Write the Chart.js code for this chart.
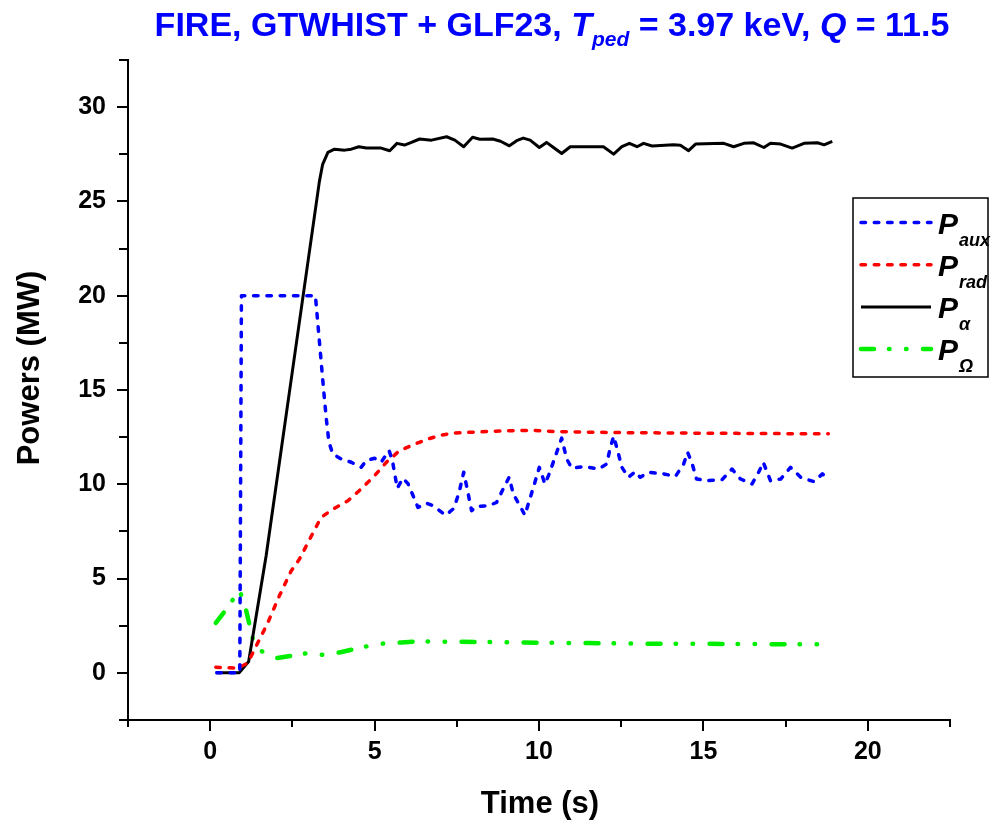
<!DOCTYPE html>
<html>
<head>
<meta charset="utf-8">
<script src="https://cdn.jsdelivr.net/npm/chart.js@4.4.0/dist/chart.umd.min.js"></script>
<style>
  body { margin: 0; background: #fff; }
  canvas { display: block; }
</style>
</head>
<body>
<canvas id="myChart" width="999" height="825"></canvas>
<script>
// time (s) and power (MW) for each heating / loss channel
const tAux = [0.2, 0.9, 0.95, 3.2, 3.45, 3.53, 3.61, 3.73, 3.98, 4.29, 4.59, 4.75, 5.0, 5.2, 5.44, 5.54, 5.69, 5.86, 6.02, 6.32, 6.58, 6.78, 7.16, 7.41, 7.57, 7.71, 7.8, 7.95, 8.1, 8.46, 8.71, 8.91, 9.09, 9.22, 9.42, 9.57, 9.83, 10.01, 10.18, 10.31, 10.54, 10.69, 10.84, 11.0, 11.35, 11.81, 12.06, 12.16, 12.27, 12.39, 12.52, 12.72, 12.93, 13.08, 13.33, 13.79, 14.15, 14.4, 14.52, 14.66, 14.79, 15.11, 15.57, 15.87, 16.13, 16.48, 16.69, 16.82, 17.04, 17.35, 17.65, 17.96, 18.36, 18.62, 18.8]
const pAux = [0, 0, 20, 20, 15, 13.5, 12.24, 11.6, 11.35, 11.17, 10.9, 11.26, 11.38, 11.17, 11.79, 11.26, 9.79, 10.32, 10.02, 8.77, 9.0, 8.86, 8.36, 8.72, 9.57, 10.64, 9.89, 8.6, 8.83, 8.86, 9.04, 9.75, 10.37, 9.48, 8.86, 8.36, 9.84, 10.9, 10.02, 10.55, 11.7, 12.45, 11.35, 10.85, 10.94, 10.81, 11.08, 11.88, 12.55, 11.79, 10.9, 10.37, 10.67, 10.37, 10.64, 10.55, 10.42, 11.08, 11.7, 11.08, 10.28, 10.19, 10.25, 10.81, 10.28, 10.02, 10.67, 11.17, 10.19, 10.28, 10.9, 10.37, 10.14, 10.55, 10.28]

const tRad = [0.17, 0.83, 1.14, 1.75, 2.1, 2.46, 2.71, 3.0, 3.37, 3.73, 4.19, 4.59, 5.0, 5.36, 5.76, 6.17, 6.58, 6.98, 7.39, 8.1, 9.01, 9.83, 10.44, 11.35, 12.5, 14.0, 16.0, 18.0, 18.8]
const pRad = [0.3, 0.25, 0.52, 2.65, 4.07, 5.4, 6.02, 7.0, 8.24, 8.68, 9.13, 9.75, 10.46, 11.17, 11.79, 12.09, 12.38, 12.59, 12.72, 12.77, 12.84, 12.86, 12.8, 12.77, 12.74, 12.72, 12.7, 12.68, 12.68]

const tAlpha = [0.17, 0.88, 1.17, 1.7, 2.5, 3.32, 3.42, 3.58, 3.78, 4.09, 4.29, 4.52, 4.75, 5.2, 5.46, 5.68, 5.91, 6.12, 6.37, 6.73, 7.19, 7.44, 7.71, 7.98, 8.2, 8.59, 8.83, 9.1, 9.32, 9.52, 9.73, 10.01, 10.23, 10.44, 10.69, 10.95, 11.96, 12.27, 12.52, 12.75, 12.98, 13.18, 13.44, 14.09, 14.3, 14.55, 14.76, 15.62, 15.92, 16.23, 16.53, 16.84, 17.04, 17.35, 17.7, 18.06, 18.47, 18.67, 18.92]
const pAlpha = [0, 0, 0.6, 6.2, 16.0, 26.05, 26.97, 27.6, 27.77, 27.72, 27.77, 27.9, 27.83, 27.83, 27.69, 28.08, 27.99, 28.13, 28.31, 28.25, 28.43, 28.25, 27.9, 28.4, 28.3, 28.31, 28.19, 27.95, 28.22, 28.36, 28.25, 27.86, 28.13, 27.86, 27.54, 27.9, 27.9, 27.51, 27.9, 28.08, 27.9, 28.08, 27.94, 28.0, 27.98, 27.69, 28.04, 28.08, 27.9, 28.08, 28.11, 27.86, 28.08, 28.04, 27.83, 28.08, 28.11, 28.0, 28.18]

const tOhm = [0.17, 0.56, 0.88, 1.04, 1.29, 1.47, 2.0, 2.51, 2.97, 3.42, 3.93, 4.39, 4.85, 5.36, 5.81, 6.42, 6.78, 7.29, 8.5, 10.0, 11.5, 13.0, 14.5, 16.0, 17.5, 18.8]
const pOhm = [2.65, 3.53, 4.39, 3.71, 1.85, 1.23, 0.78, 0.91, 1.05, 0.96, 1.08, 1.26, 1.44, 1.58, 1.61, 1.69, 1.65, 1.65, 1.63, 1.6, 1.58, 1.55, 1.55, 1.53, 1.52, 1.52]

const xMin = -2.5, xMax = 22.5
const yMin = -2.5, yMax = 32.5
const tickStep = 2.5

const FONT = '"Liberation Sans", Arial, sans-serif'

const series = [
    {sub: 'aux', color: '#0000ff', width: 3.5, dash: [4.5, 8.8], cap: 'round'},
    {sub: 'rad', color: '#ff0000', width: 3.5, dash: [4.5, 8.8], cap: 'round'},
    {sub: 'α', color: '#000000', width: 3, dash: [], cap: 'butt'},
    {sub: 'Ω', color: '#00ee00', width: 4.5, dash: [13, 15, 0.5, 16.5, 0.5, 16.5], cap: 'round'}
]

const toPoints = (ts, ps) => ts.map((t, i) => ({x: t, y: ps[i]}))
const allData = [toPoints(tAux, pAux), toPoints(tRad, pRad), toPoints(tAlpha, pAlpha), toPoints(tOhm, pOhm)]

// outward tick marks, longer at the labelled values
const axisTicks = {
    id: 'axisTicks',
    afterDraw(chart) {
        const {ctx, scales: {x, y}} = chart
        ctx.save()
        ctx.strokeStyle = '#000'
        ctx.lineWidth = 2
        x.ticks.forEach(t => {
            const px = Math.round(x.getPixelForValue(t.value))
            const len = Math.abs(t.value % 5) < 1e-6 ? 11 : 7
            ctx.beginPath()
            ctx.moveTo(px, x.top)
            ctx.lineTo(px, x.top + len)
            ctx.stroke()
        })
        y.ticks.forEach(t => {
            const py = Math.round(y.getPixelForValue(t.value))
            const len = Math.abs(t.value % 5) < 1e-6 ? 11 : 9
            ctx.beginPath()
            ctx.moveTo(y.right, py)
            ctx.lineTo(y.right - len, py)
            ctx.stroke()
        })
        ctx.restore()
    }
}

// title with italic symbols and a subscript, plus the two axis titles
const labels = {
    id: 'labels',
    afterDraw(chart) {
        const ctx = chart.ctx
        ctx.save()
        ctx.fillStyle = '#0000ff'
        ctx.textBaseline = 'alphabetic'
        const big = 'bold 34px ' + FONT
        const bigIt = 'italic bold 34px ' + FONT
        const small = 'italic bold 21px ' + FONT
        const parts = [
            ['FIRE, GTWHIST + GLF23, ', big, 0],
            ['T', bigIt, 0],
            ['ped', small, 10],
            [' = 3.97 keV, ', big, 0],
            ['Q', bigIt, 0],
            [' = 11.5', big, 0]
        ]
        let total = 0
        parts.forEach(p => { ctx.font = p[1]; total += ctx.measureText(p[0]).width })
        let x0 = 552 - total / 2
        parts.forEach(p => {
            ctx.font = p[1]
            ctx.fillText(p[0], x0, 36 + p[2])
            x0 += ctx.measureText(p[0]).width
        })

        ctx.fillStyle = '#000'
        ctx.font = 'bold 31px ' + FONT
        ctx.textAlign = 'center'
        ctx.textBaseline = 'middle'
        ctx.fillText('Time (s)', 540, 804)
        ctx.translate(30, 368)
        ctx.rotate(-Math.PI / 2)
        ctx.fillText('Powers (MW)', 0, 0)
        ctx.restore()
    }
}

// boxed key with P and its subscript for each curve
const keyBox = {
    id: 'keyBox',
    afterDraw(chart) {
        const ctx = chart.ctx
        ctx.save()
        ctx.fillStyle = '#fff'
        ctx.fillRect(853, 198, 135, 179)
        ctx.strokeStyle = '#000'
        ctx.lineWidth = 1.5
        ctx.strokeRect(853, 198, 135, 179)
        series.forEach((s, i) => {
            const yy = 222.5 + i * 42.2
            ctx.strokeStyle = s.color
            ctx.lineWidth = s.width
            ctx.lineCap = s.cap
            ctx.setLineDash(s.dash)
            ctx.beginPath()
            ctx.moveTo(861, yy)
            ctx.lineTo(931, yy)
            ctx.stroke()
            ctx.setLineDash([])
            ctx.fillStyle = '#000'
            ctx.font = 'italic bold 30px ' + FONT
            ctx.fillText('P', 938, yy + 11)
            ctx.font = 'italic bold 18px ' + FONT
            ctx.fillText(s.sub, 959, yy + 23)
        })
        ctx.restore()
    }
}

const tickFont = {family: FONT, size: 25, weight: 'bold'}

var ctx = document.getElementById('myChart').getContext('2d');
var myChart = new Chart(ctx, {
    type: 'line',
    data: {
        datasets: series.map((s, i) => ({
            data: allData[i],
            borderColor: s.color,
            borderWidth: s.width,
            borderDash: s.dash,
            borderCapStyle: s.cap,
            borderJoinStyle: 'round',
            pointRadius: 0,
            fill: false,
            tension: 0
        }))
    },
    options: {
        responsive: false,
        animation: false,
        layout: {padding: {left: 0, top: 60, right: 49, bottom: 0}},
        plugins: {
            legend: {display: false},
            tooltip: {enabled: false}
        },
        scales: {
            x: {
                type: 'linear',
                min: xMin,
                max: xMax,
                afterFit: scale => { scale.height = 105 },
                grid: {display: false, drawTicks: false},
                border: {display: true, color: '#000', width: 2},
                ticks: {
                    stepSize: tickStep,
                    autoSkip: false,
                    maxRotation: 0,
                    padding: 17,
                    color: '#000',
                    font: tickFont,
                    callback: v => (Math.abs(v % 5) < 1e-6 ? v : '')
                }
            },
            y: {
                type: 'linear',
                min: yMin,
                max: yMax,
                afterFit: scale => { scale.width = 128 },
                grid: {display: false, drawTicks: false},
                border: {display: true, color: '#000', width: 2},
                ticks: {
                    stepSize: tickStep,
                    autoSkip: false,
                    padding: 22,
                    color: '#000',
                    font: tickFont,
                    callback: v => (Math.abs(v % 5) < 1e-6 ? v : '')
                }
            }
        }
    },
    plugins: [axisTicks, labels, keyBox]
});
</script>
</body>
</html>
